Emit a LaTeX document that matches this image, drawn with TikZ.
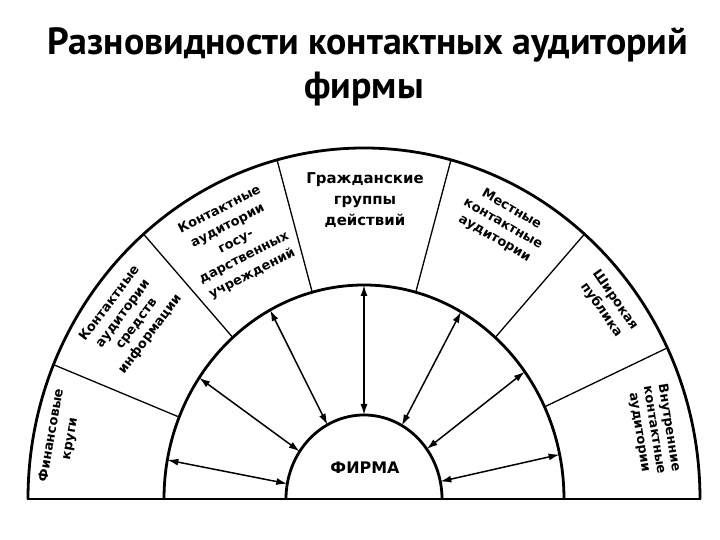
\documentclass[tikz,border=0pt]{standalone}
\usepackage{fontspec}
\setmainfont{Liberation Sans}
\newfontfamily\titlefont{PT Sans}
\newfontfamily\lblfont{DejaVu Sans}
\usetikzlibrary{arrows.meta}
\begin{document}
\begin{tikzpicture}[x=1bp,y=1bp,
  ring/.style={line width=2.8bp},
  divider/.style={line width=1.3bp},
  link/.style={line width=1.5bp,{Latex[length=11bp,width=7bp]}-{Latex[length=11bp,width=7bp]}},
  lbl/.style={font=\lblfont\bfseries\fontsize{13}{16}\selectfont,align=center,inner sep=0pt},
  ttl/.style={font=\titlefont\bfseries\fontsize{38}{44}\selectfont,inner sep=0pt},
  ]
\useasboundingbox (-364,-41) rectangle (356,499);
\fill[white] (-364,-41) rectangle (356,499);

% title
\node[ttl] (t1) at (4,454) {Разновидности контактных аудиторий};
\node[ttl] (t2) at (0,410) {фирмы};

% rings
\draw[ring] (336,0) arc[start angle=0,end angle=180,x radius=336,y radius=351];
\draw[ring] (200,0) arc[start angle=0,end angle=180,x radius=200,y radius=214];
\draw[ring] (78,0) arc[start angle=0,end angle=180,x radius=78,y radius=84];
\draw[ring] (-337,0) -- (337,0);

% dividers
\foreach \a [count=\i] in {25.5,49,75,105,131,157.5}{
  \coordinate (do\i) at (\a:336 and 351);
  \coordinate (di\i) at (\a:200 and 214);
  \draw[divider] (di\i) -- (do\i);
}

% arrows
\foreach \a [count=\i] in {12,36.5,61,90,118,145.5,169.5}{
  \coordinate (ao\i) at (\a:200 and 214);
  \coordinate (ai\i) at (\a:78 and 84);
  \draw[link] (ai\i) -- (ao\i);
}

% labels
\node[font=\lblfont\bfseries\fontsize{15}{21}\selectfont,align=center,inner sep=0pt] (civ) at (1,299)
  {Гражданские\\группы\\действий};
\node[font=\lblfont\bfseries\fontsize{16}{20}\selectfont,inner sep=0pt] (firm) at (1,31) {ФИРМА};

\node[lbl,rotate=27,font=\lblfont\bfseries\fontsize{13}{18}\selectfont] (gov) at (-128,257)
  {Контактные\\аудитории\\госу-\\дарственных\\учреждений};
\node[lbl,rotate=53,font=\lblfont\bfseries\fontsize{13}{17}\selectfont] (media) at (-234,180)
  {Контактные\\аудитории\\средств\\информации};
\node[lbl,rotate=80,font=\lblfont\bfseries\fontsize{13}{19}\selectfont] (fin) at (-303,62)
  {Финансовые\\круги};
\node[lbl,rotate=-30,font=\lblfont\bfseries\fontsize{13}{17}\selectfont] (loc) at (139,275)
  {Местные\\контактные\\аудитории};
\node[lbl,rotate=-55,font=\lblfont\bfseries\fontsize{13}{17}\selectfont] (pub) at (244,194)
  {Широкая\\публика};
\node[lbl,rotate=-81,font=\lblfont\bfseries\fontsize{13}{15}\selectfont] (int) at (290,69)
  {Внутренние\\контактные\\аудитории};
\end{tikzpicture}
\end{document}
